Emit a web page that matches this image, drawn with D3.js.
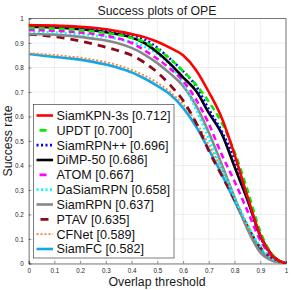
<!DOCTYPE html>
<html><head><meta charset="utf-8">
<script src="https://cdn.jsdelivr.net/npm/d3@7"></script>
<style>body{margin:0;background:#fff}svg{display:block}</style>
</head><body>
<svg id="c" width="291" height="290"></svg>
<script>
const thresholds = [0,0.05,0.1,0.15,0.2,0.25,0.3,0.35,0.4,0.45,0.5,0.55,0.6,0.65,0.7,0.75,0.8,0.85,0.9,0.95,1];
const trackers = ["SiamKPN-3s [0.712]","UPDT [0.700]","SiamRPN++ [0.696]","DiMP-50 [0.686]","ATOM [0.667]","DaSiamRPN [0.658]","SiamRPN [0.637]","PTAV [0.635]","CFNet [0.589]","SiamFC [0.582]"];
const siamkpn   = [0.973,0.972,0.971,0.969,0.966,0.962,0.956,0.947,0.937,0.924,0.905,0.880,0.850,0.790,0.700,0.595,0.445,0.275,0.115,0.028,0];
const updt      = [0.962,0.961,0.959,0.957,0.953,0.948,0.941,0.933,0.921,0.905,0.875,0.835,0.785,0.730,0.660,0.575,0.455,0.300,0.130,0.032,0];
const siamrpnpp = [0.970,0.969,0.967,0.965,0.962,0.957,0.951,0.943,0.932,0.915,0.880,0.835,0.785,0.725,0.630,0.540,0.425,0.265,0.110,0.027,0];
const dimp      = [0.966,0.965,0.963,0.960,0.956,0.951,0.944,0.935,0.922,0.900,0.862,0.815,0.760,0.705,0.615,0.530,0.395,0.260,0.115,0.030,0];
const atom      = [0.953,0.952,0.950,0.947,0.943,0.938,0.930,0.918,0.900,0.870,0.835,0.795,0.745,0.670,0.570,0.445,0.335,0.215,0.095,0.025,0];
const dasiam    = [0.946,0.945,0.943,0.940,0.936,0.931,0.925,0.916,0.903,0.885,0.855,0.810,0.735,0.630,0.510,0.390,0.270,0.160,0.070,0.018,0];
const siamrpn   = [0.937,0.936,0.934,0.930,0.925,0.918,0.910,0.898,0.880,0.853,0.818,0.775,0.725,0.645,0.535,0.405,0.270,0.140,0.045,0.010,0];
const ptav      = [0.935,0.932,0.926,0.918,0.908,0.896,0.883,0.868,0.850,0.820,0.780,0.728,0.665,0.575,0.460,0.360,0.260,0.150,0.065,0.020,0];
const cfnet     = [0.858,0.855,0.851,0.846,0.840,0.832,0.822,0.808,0.790,0.767,0.738,0.700,0.650,0.580,0.485,0.385,0.270,0.160,0.065,0.015,0];
const siamfc    = [0.855,0.849,0.843,0.838,0.832,0.823,0.812,0.798,0.780,0.755,0.725,0.690,0.635,0.560,0.465,0.365,0.255,0.150,0.060,0.012,0];
const seriesValues = [siamkpn,updt,siamrpnpp,dimp,atom,dasiam,siamrpn,ptav,cfnet,siamfc];
const xTicks = [0,0.1,0.2,0.3,0.4,0.5,0.6,0.7,0.8,0.9,1];
const yTicks = [0,0.1,0.2,0.3,0.4,0.5,0.6,0.7,0.8,0.9,1];
const title = "Success plots of OPE";
const xLabel = "Overlap threshold";
const yLabel = "Success rate";

const styles = [
  {c:"#ff0000", w:2.6, d:null},
  {c:"#00ee00", w:2.6, d:"6,4"},
  {c:"#0000ff", w:2.6, d:"2,2.5"},
  {c:"#000000", w:2.6, d:null},
  {c:"#ff00ff", w:2.6, d:"6,4"},
  {c:"#00ffff", w:2.6, d:"2,2.5"},
  {c:"#888888", w:2.6, d:null},
  {c:"#8b0a1a", w:2.8, d:"8,6"},
  {c:"#ff8030", w:1.8, d:"2,2"},
  {c:"#10a8e8", w:2.6, d:null}
];

const svg = d3.select("#c");
const L = 28.7, R = 286, T = 18.5, B = 263.5;
const x = d3.scaleLinear().domain([0,1]).range([L,R]);
const y = d3.scaleLinear().domain([0,1]).range([B,T]);
const font = "'Liberation Sans', Arial, sans-serif";

// grid
const g = svg.append("g");
g.selectAll(".gx").data(xTicks).enter().append("line")
  .attr("x1",d=>x(d)).attr("x2",d=>x(d)).attr("y1",T).attr("y2",B)
  .attr("stroke","#e3e3e3").attr("stroke-width",0.6);
g.selectAll(".gy").data(yTicks).enter().append("line")
  .attr("y1",d=>y(d)).attr("y2",d=>y(d)).attr("x1",L).attr("x2",R)
  .attr("stroke","#e3e3e3").attr("stroke-width",0.6);

// axes
const xAxis = d3.axisBottom(x).tickValues(xTicks).tickSize(-2.5).tickPadding(5).tickFormat(d=>d3.format("~g")(d));
const yAxis = d3.axisLeft(y).tickValues(yTicks).tickSize(-2.5).tickPadding(5).tickFormat(d=>d3.format("~g")(d));
const xa = svg.append("g").attr("transform",`translate(0,${B})`).call(xAxis);
const ya = svg.append("g").attr("transform",`translate(${L},0)`).call(yAxis);
[xa,ya].forEach(a=>{
  a.selectAll("text").attr("font-family",font).attr("font-size",6.3).attr("fill","#262626");
  a.selectAll("line").attr("stroke","#262626").attr("stroke-width",0.5);
  a.select(".domain").attr("stroke","#262626").attr("stroke-width",0.6);
});
// top and right box lines
svg.append("line").attr("x1",L).attr("x2",R).attr("y1",T).attr("y2",T).attr("stroke","#262626").attr("stroke-width",0.6);
svg.append("line").attr("x1",R).attr("x2",R).attr("y1",T).attr("y2",B).attr("stroke","#262626").attr("stroke-width",0.6);

// curves
const line = d3.line().x((d,i)=>x(thresholds[i])).y(d=>y(d)).curve(d3.curveMonotoneX);
const clip = svg.append("clipPath").attr("id","pc").append("rect").attr("x",L).attr("y",T-2).attr("width",R-L+1).attr("height",B-T+2);
const cg = svg.append("g").attr("clip-path","url(#pc)");
for (let k = seriesValues.length-1; k>=0; k--) {
  const s = styles[k];
  cg.append("path").datum(seriesValues[k]).attr("d",line)
    .attr("fill","none").attr("stroke",s.c).attr("stroke-width",s.w)
    .attr("stroke-dasharray",s.d).attr("stroke-linecap",s.d && s.d.startsWith("2")?"butt":"butt");
}

// titles
svg.append("text").attr("x",157).attr("y",14.5).attr("text-anchor","middle")
  .attr("font-family",font).attr("font-size",12.3).attr("fill","#1a1a1a").text(title);
svg.append("text").attr("x",157).attr("y",286).attr("text-anchor","middle")
  .attr("font-family",font).attr("font-size",12.3).attr("fill","#1a1a1a").text(xLabel);
svg.append("text").attr("transform","translate(11.5,141) rotate(-90)").attr("text-anchor","middle")
  .attr("font-family",font).attr("font-size",12.3).attr("fill","#1a1a1a").text(yLabel);

// legend
const lg = svg.append("g");
lg.append("rect").attr("x",33.5).attr("y",104.5).attr("width",140.5).attr("height",153.5)
  .attr("fill","#fff").attr("stroke","#262626").attr("stroke-width",0.6);
const ly = d3.scalePoint().domain(trackers).range([115.5,249]);
trackers.forEach((t,k)=>{
  const s = styles[k];
  lg.append("line").attr("x1",36.5).attr("x2",53).attr("y1",ly(t)).attr("y2",ly(t))
    .attr("stroke",s.c).attr("stroke-width",s.w).attr("stroke-dasharray",s.d ? (s.d==="6,4"?"0,3,7,6":(s.d==="8,6"?"0,4,8,6":s.d)) : null);
  lg.append("text").attr("x",56.5).attr("y",ly(t)+4.4).attr("font-family",font).attr("font-size",12.6)
    .attr("fill","#111").text(t);
});
</script>
</body></html>
